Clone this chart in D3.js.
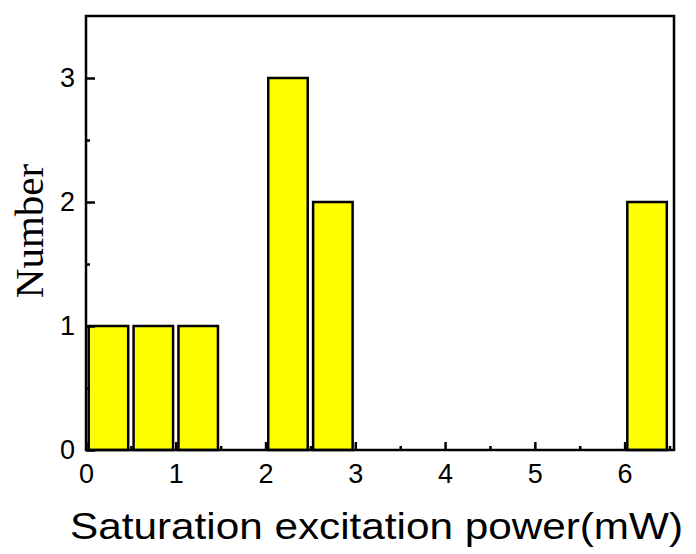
<!DOCTYPE html>
<html>
<head>
<meta charset="utf-8">
<script src="https://cdn.jsdelivr.net/npm/d3@7"></script>
<style>
  body { margin: 0; background: #fff; }
  svg text { fill: #000; }
</style>
</head>
<body>
<script>
// data: histogram bins (start of each 0.5 mW bin) and counts
var binStarts = [0, 0.5, 1, 2, 2.5, 6];
var binCounts = [1, 1, 1, 3, 2, 2];
var binWidth = 0.5;
var xTickValues = [0, 1, 2, 3, 4, 5, 6];
var yTickValues = [0, 1, 2, 3];

var svgWidth = 696, svgHeight = 554;

var svg = d3.select("body").append("svg")
    .attr("width", svgWidth)
    .attr("height", svgHeight);

// scales
var xScale = d3.scaleLinear().domain([0, 6.55]).range([86, 674]);
var yScale = d3.scaleLinear().domain([0, 3.5]).range([450, 16]);

// bars, centered in their bin, slightly narrower than the bin
var barFrac = 0.88;
svg.append("g").selectAll("rect")
    .data(binCounts)
    .enter()
    .append("rect")
    .attr("x", (d, i) => xScale(binStarts[i] + binWidth * (1 - barFrac) / 2))
    .attr("width", (d, i) => xScale(binStarts[i] + binWidth * (1 + barFrac) / 2) - xScale(binStarts[i] + binWidth * (1 - barFrac) / 2))
    .attr("y", d => yScale(d))
    .attr("height", d => yScale(0) - yScale(d))
    .attr("fill", "#ffff00")
    .attr("stroke", "#000")
    .attr("stroke-width", 2.5);

// frame
svg.append("rect")
    .attr("x", xScale(0))
    .attr("y", yScale(3.5))
    .attr("width", xScale(6.55) - xScale(0))
    .attr("height", yScale(0) - yScale(3.5))
    .attr("fill", "none")
    .attr("stroke", "#000")
    .attr("stroke-width", 2.5);

// minor ticks
svg.append("g")
    .attr("transform", `translate(0, ${yScale(0)})`)
    .call(d3.axisBottom(xScale).tickValues(d3.range(0.5, 6.55, 1)).tickSize(-4).tickFormat(""))
    .call(g => g.select(".domain").remove());
svg.append("g")
    .attr("transform", `translate(${xScale(0)}, 0)`)
    .call(d3.axisLeft(yScale).tickValues([0.5, 1.5, 2.5]).tickSize(-4).tickFormat(""))
    .call(g => g.select(".domain").remove());

// major ticks with labels
var xAxisG = svg.append("g")
    .attr("transform", `translate(0, ${yScale(0)})`)
    .call(d3.axisBottom(xScale).tickValues(xTickValues).tickSize(-8).tickPadding(14).tickFormat(d3.format("d")));
var yAxisG = svg.append("g")
    .attr("transform", `translate(${xScale(0)}, 0)`)
    .call(d3.axisLeft(yScale).tickValues(yTickValues).tickSize(-9).tickPadding(11).tickFormat(d3.format("d")));

[xAxisG, yAxisG].forEach(g => {
  g.select(".domain").remove();
  g.selectAll("text")
      .attr("font-family", "'Liberation Sans', Arial, sans-serif")
      .attr("font-size", 27)
      .attr("fill", "#000");
});
svg.selectAll(".tick line").attr("stroke", "#000").attr("stroke-width", 2.5);

// axis titles
svg.append("text")
    .attr("x", 376.5)
    .attr("y", 539)
    .attr("text-anchor", "middle")
    .attr("font-family", "'Liberation Sans', Arial, sans-serif")
    .attr("font-size", 37)
    .attr("textLength", 613)
    .attr("lengthAdjust", "spacingAndGlyphs")
    .text("Saturation excitation power(mW)");

svg.append("text")
    .attr("transform", "translate(43, 231) rotate(-90)")
    .attr("text-anchor", "middle")
    .attr("font-family", "'Liberation Serif', 'Times New Roman', serif")
    .attr("font-size", 41)
    .text("Number");
</script>
</body>
</html>
